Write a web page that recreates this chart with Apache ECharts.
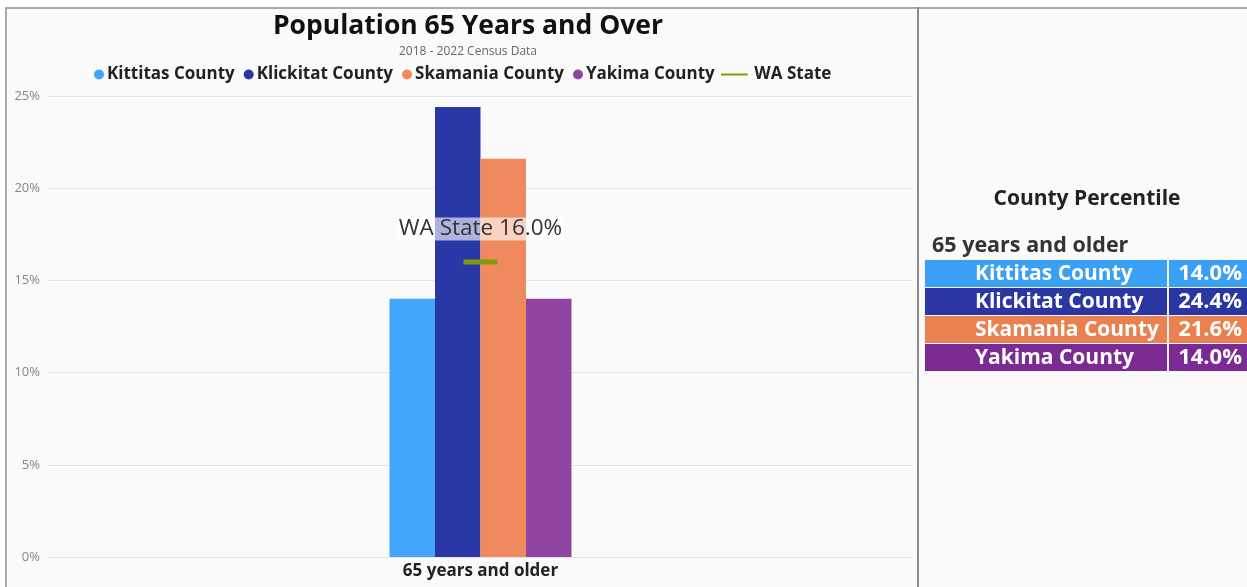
<!DOCTYPE html>
<html>
<head>
<meta charset="utf-8">
<script src="https://cdn.jsdelivr.net/npm/echarts@6/dist/echarts.min.js"></script>
<style>
  html, body { margin: 0; padding: 0; background: #ffffff; }
  #chart { width: 1247px; height: 587px; }
</style>
</head>
<body>
<div id="chart"></div>
<script>
// Age group shown on the x axis
const categories = ['65 years and older'];
// Counties and their share of population aged 65+
const counties = ['Kittitas County', 'Klickitat County', 'Skamania County', 'Yakima County'];
const countyValues = [14.0, 24.4, 21.6, 14.0];
// Statewide reference value
const stateName = 'WA State';
const stateValues = [16.0];
// Y axis tick labels (percent)
const yTicks = [0, 5, 10, 15, 20, 25];

const barColors = ['#42a5fb', '#2a38a6', '#ee8a5e', '#8e44a0'];
const tableColors = ['#3aa0f5', '#2b36a3', '#e9804f', '#7b2a94'];
const stateColor = '#7f9c0a';
const FONT = '"Open Sans", "Noto Sans", sans-serif';

const chart = echarts.init(document.getElementById('chart'), null, { renderer: 'canvas' });

const barSeries = counties.map((name, i) => ({
  name: name,
  type: 'bar',
  data: [countyValues[i]],
  barWidth: 45.5,
  barGap: '0%',
  itemStyle: { color: barColors[i] },
  emphasis: { disabled: true }
}));

const stateSeries = {
  name: stateName,
  type: 'line',
  data: stateValues,
  symbol: 'rect',
  symbolSize: [34, 5],
  itemStyle: { color: stateColor },
  lineStyle: { color: stateColor, width: 2 },
  z: 5,
  label: {
    show: true,
    position: 'top',
    distance: 19,
    formatter: p => stateName + ' ' + p.value.toFixed(1) + '%',
    fontFamily: FONT,
    fontSize: 22.5,
    color: '#333',
    backgroundColor: 'rgba(255,255,255,0.62)',
    padding: [0, 2, 0, 2]
  },
  emphasis: { disabled: true }
};

// Side table built from the county arrays
const tableLeft = 924, tableTop = 259, rowH = 28, nameW = 243, valW = 79;
const tableGraphics = [];
counties.forEach((name, i) => {
  const y = tableTop + i * rowH;
  tableGraphics.push({
    type: 'rect', left: tableLeft, top: y,
    shape: { width: nameW, height: rowH },
    style: { fill: tableColors[i], stroke: '#f4f4f8', lineWidth: 1 }
  });
  tableGraphics.push({
    type: 'rect', left: tableLeft + nameW + 1, top: y,
    shape: { width: valW, height: rowH },
    style: { fill: tableColors[i], stroke: '#f4f4f8', lineWidth: 1 }
  });
  tableGraphics.push({
    type: 'text', x: 975, y: y + rowH / 2 + 1,
    style: { text: name, fill: '#fff', font: 'bold 21px ' + FONT, textAlign: 'left', textVerticalAlign: 'middle' }
  });
  tableGraphics.push({
    type: 'text', x: tableLeft + nameW + valW - 4, y: y + rowH / 2 + 1,
    style: { text: countyValues[i].toFixed(1) + '%', fill: '#fff', font: 'bold 22px ' + FONT, textAlign: 'right', textVerticalAlign: 'middle' }
  });
});

const option = {
  backgroundColor: '#ffffff',
  animation: false,
  textStyle: { fontFamily: FONT },
  title: [
    {
      text: 'Population 65 Years and Over',
      left: 463, top: 8, textAlign: 'center',
      textStyle: { fontFamily: FONT, fontSize: 26.5, fontWeight: 'bold', color: '#111' }
    },
    {
      text: '2018 - 2022 Census Data',
      left: 463, top: 41, textAlign: 'center',
      textStyle: { fontFamily: FONT, fontSize: 12, fontWeight: 'normal', color: '#666' }
    },
    {
      text: 'County Percentile',
      left: 1082, top: 184, textAlign: 'center',
      textStyle: { fontFamily: FONT, fontSize: 21, fontWeight: 'bold', color: '#222' }
    },
    {
      text: categories[0],
      left: 927, top: 230,
      textStyle: { fontFamily: FONT, fontSize: 21.5, fontWeight: 'bold', color: '#333' }
    }
  ],
  legend: [
    {
      data: counties,
      left: 89, top: 61,
      icon: 'circle',
      itemWidth: 10, itemHeight: 10, itemGap: 9,
      selectedMode: false,
      textStyle: { fontFamily: FONT, fontSize: 17, fontWeight: 'bold', color: '#222', padding: [0, 0, 0, -2] }
    },
    {
      data: [{ name: stateName, icon: 'path://M0,0L40,0L40,3L0,3Z' }],
      left: 716, top: 61,
      itemWidth: 30, itemHeight: 2,
      selectedMode: false,
      textStyle: { fontFamily: FONT, fontSize: 17, fontWeight: 'bold', color: '#222' }
    }
  ],
  grid: { left: 48, right: 334, top: 96, bottom: 30 },
  xAxis: {
    type: 'category',
    data: categories,
    axisLine: { lineStyle: { color: '#e2e2e2' } },
    axisTick: { show: false },
    axisLabel: { fontFamily: FONT, fontSize: 17, fontWeight: 'bold', color: '#222', margin: 6 }
  },
  yAxis: {
    type: 'value',
    min: yTicks[0], max: yTicks[yTicks.length - 1], interval: yTicks[1] - yTicks[0],
    axisLine: { show: false },
    axisTick: { show: false },
    splitLine: { lineStyle: { color: '#e4e4e4', width: 1 } },
    axisLabel: { formatter: '{value}%', fontFamily: FONT, fontSize: 13, color: '#888', margin: 8 }
  },
  series: [...barSeries, stateSeries],
  graphic: [
    // panel backgrounds and frame
    { type: 'rect', left: 6, top: 8, z: -10, shape: { width: 1241, height: 579 }, style: { fill: '#fafafa' } },
    { type: 'line', z: 10, shape: { x1: 5, y1: 8, x2: 1247, y2: 8 }, style: { stroke: '#aaaaaa', lineWidth: 2 } },
    { type: 'line', z: 10, shape: { x1: 6, y1: 7, x2: 6, y2: 587 }, style: { stroke: '#aaaaaa', lineWidth: 2 } },
    { type: 'line', z: 10, shape: { x1: 918, y1: 7, x2: 918, y2: 587 }, style: { stroke: '#8a8a8a', lineWidth: 2 } },
    ...tableGraphics
  ]
};

chart.setOption(option);
</script>
</body>
</html>
